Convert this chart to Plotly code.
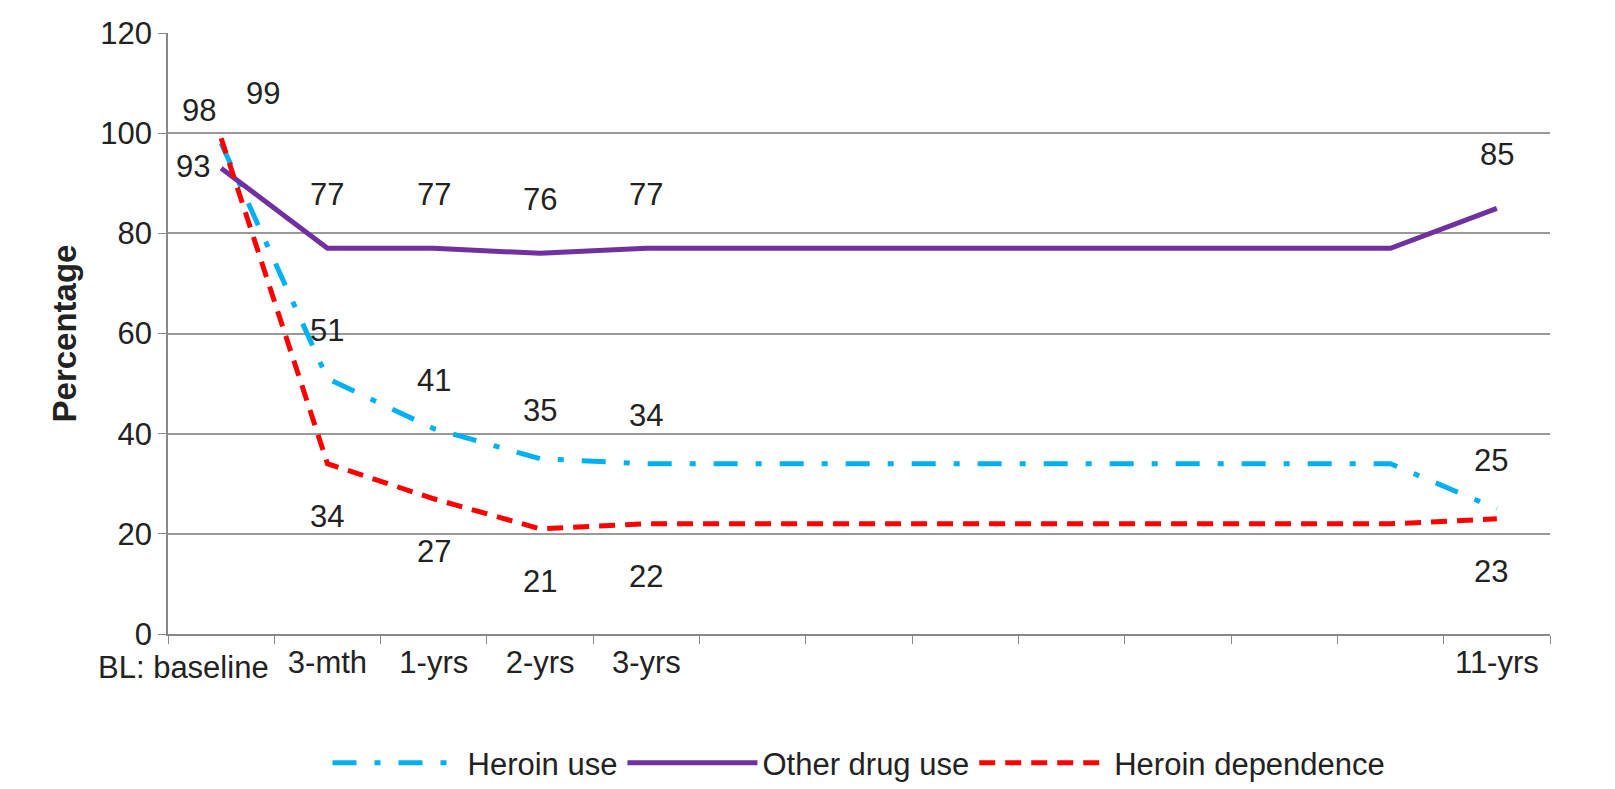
import plotly.graph_objects as go

# 13 category slots, only some labelled
categories = ["BL: baseline", "3-mth", "1-yrs", "2-yrs", "3-yrs"] + ["\u200b" * k for k in range(1, 8)] + ["11-yrs"]
heroin_use = [98, 51, 41, 35, 34, 34, 34, 34, 34, 34, 34, 34, 25]
other_drug = [93, 77, 77, 76, 77, 77, 77, 77, 77, 77, 77, 77, 85]
heroin_dep = [99, 34, 27, 21, 22, 22, 22, 22, 22, 22, 22, 22, 23]
labelled = [0, 1, 2, 3, 4, 12]

fig = go.Figure()
fig.add_trace(go.Scatter(x=categories, y=heroin_use, mode="lines", name="Heroin use",
                         line=dict(color="#00B0F0", width=5, dash="24px,18px,6px,18px")))
fig.add_trace(go.Scatter(x=categories, y=other_drug, mode="lines", name="Other drug use",
                         line=dict(color="#7030A0", width=5)))
fig.add_trace(go.Scatter(x=categories, y=heroin_dep, mode="lines", name="Heroin dependence",
                         line=dict(color="#FF0000", width=5, dash="16px,10px")))

font = dict(family="Liberation Sans, Arial", size=31, color="#222")
shifts = {
    "use": {0: (-22, 33)},
    "other": {0: (-28, 2)},
    "dep": {0: (42, 45)},
}
for key, vals, dy in [("use", heroin_use, 48), ("other", other_drug, 54), ("dep", heroin_dep, -53)]:
    for i in labelled:
        xs, ys = shifts[key].get(i, (0, dy))
        if i == 12 and key != "other":
            xs = -6
        fig.add_annotation(x=categories[i], y=vals[i], text=str(vals[i]), showarrow=False,
                           xshift=xs, yshift=ys, font=font)

# first category label sits right-aligned against its slot boundary
fig.add_annotation(x=categories[0], y=0, yref="paper", text=categories[0], showarrow=False,
                   xanchor="right", yanchor="top", xshift=50, yshift=-14, font=font)
ticktext = [""] + categories[1:]

fig.update_layout(
    width=1615, height=789,
    paper_bgcolor="white", plot_bgcolor="white",
    margin=dict(l=160, r=73, t=25, b=163, autoexpand=False),
    font=font,
    showlegend=True,
    legend=dict(orientation="h", x=0.5, xanchor="center", y=-0.17, yanchor="top",
                font=dict(size=31), itemwidth=130, tracegroupgap=0),
    xaxis=dict(type="category", tickson="boundaries", ticks="outside", ticklen=8,
               tickcolor="#888", showline=True, linecolor="#888", linewidth=1.5,
               showgrid=False, tickfont=font, range=[-0.5, 12.5], tickangle=0,
               tickvals=categories, ticktext=ticktext, automargin=False),
    yaxis=dict(range=[0, 120], dtick=20, showgrid=True, gridcolor="#999", gridwidth=1.5,
               showline=True, linecolor="#888", linewidth=1.5, ticks="outside",
               ticklen=8, tickcolor="#888", tickfont=font, zeroline=False, automargin=False,
               title=dict(text="<b>Percentage</b>", font=dict(size=33), standoff=14)),
)

fig.write_html("out.html")
